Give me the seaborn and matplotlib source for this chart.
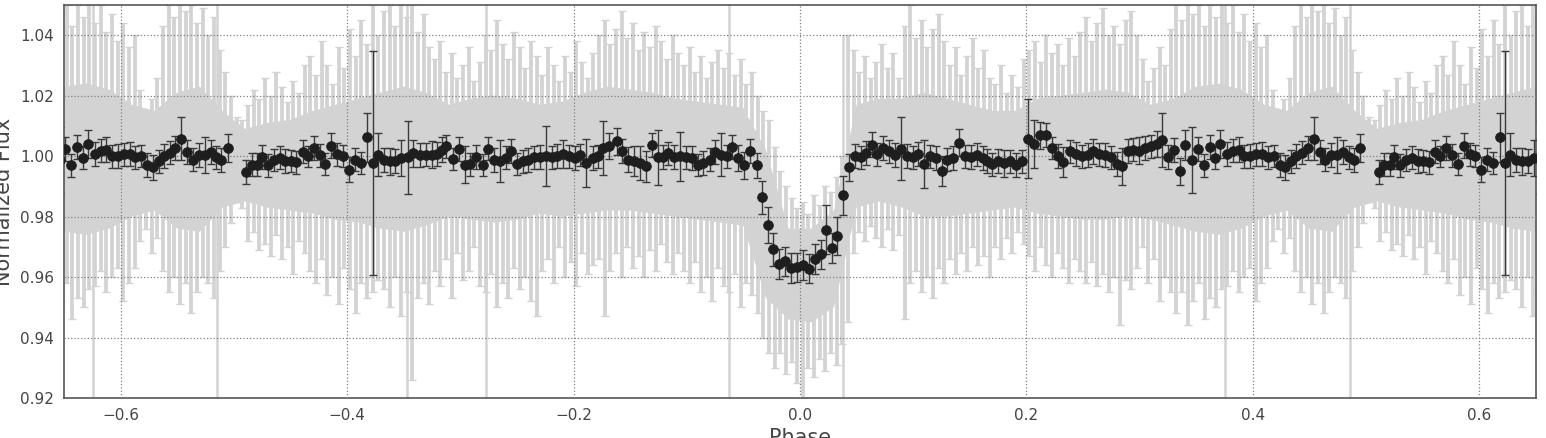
import numpy as np
import pandas as pd
import matplotlib
matplotlib.use("Agg")
import matplotlib.pyplot as plt
import seaborn as sns
from matplotlib.ticker import FuncFormatter

# ---------------- binned (black) light curve, phase in [-0.5, 0.5) ----------------
phase_a = [-0.4889, -0.4840, -0.4792, -0.4751, -0.4698, -0.4645, -0.4595, -0.4545, -0.4498, -0.4447,
           -0.4389, -0.4345, -0.4292, -0.4241, -0.4191, -0.4138, -0.4085, -0.4036, -0.3985, -0.3932,
           -0.3879, -0.3820, -0.3770, -0.3726, -0.3673, -0.3623, -0.3573, -0.3520, -0.3461, -0.3417,
           -0.3358, -0.3299]
flux_a = [0.9948, 0.9972, 0.9972, 0.9997, 0.9970, 0.9988, 0.9994, 0.9983, 0.9983, 0.9980,
          1.0014, 0.9999, 1.0027, 1.0003, 0.9975, 1.0035, 1.0007, 1.0000, 0.9955, 0.9988,
          0.9977, 1.0062, 0.9977, 1.0005, 0.9988, 0.9983, 0.9985, 0.9994, 0.9996, 1.0010,
          1.0005, 1.0005]
err_a = [0.0040, 0.0038, 0.0038, 0.0040, 0.0038, 0.0036, 0.0038, 0.0040, 0.0036, 0.0038,
         0.0038, 0.0036, 0.0040, 0.0038, 0.0036, 0.0040, 0.0038, 0.0036, 0.0042, 0.0038,
         0.0036, 0.0082, 0.0370, 0.0070, 0.0040, 0.0045, 0.0040, 0.0060, 0.0120, 0.0045,
         0.0040, 0.0038]

phase_b = [-0.3254, -0.3210, -0.3166, -0.3122, -0.3064, -0.3010, -0.2960, -0.2910, -0.2857, -0.2804,
           -0.2754, -0.2704, -0.2651, -0.2598, -0.2548, -0.2498, -0.2450, -0.2401, -0.2353, -0.2297,
           -0.2244, -0.2194, -0.2145, -0.2092, -0.2039, -0.1985, -0.1941, -0.1888, -0.1832, -0.1782,
           -0.1738, -0.1685]
flux_b = [1.0005, 1.0007, 1.0022, 1.0033, 0.9990, 1.0024, 0.9972, 0.9974, 0.9996, 0.9972,
          1.0024, 0.9988, 0.9983, 0.9994, 1.0018, 0.9975, 0.9983, 0.9988, 0.9996, 0.9997,
          1.0000, 0.9996, 1.0000, 1.0007, 1.0000, 0.9994, 1.0003, 0.9978, 0.9994, 1.0000,
          1.0027, 1.0033]
err_b = [0.0045, 0.0040, 0.0042, 0.0038, 0.0036, 0.0040, 0.0060, 0.0038, 0.0040, 0.0036,
         0.0038, 0.0040, 0.0070, 0.0038, 0.0040, 0.0036, 0.0038, 0.0040, 0.0038, 0.0040,
         0.0100, 0.0038, 0.0040, 0.0045, 0.0038, 0.0040, 0.0036, 0.0080, 0.0040, 0.0038,
         0.0090, 0.0042]

phase_c = [-0.1620, -0.1570, -0.1517, -0.1464, -0.1414, -0.1363, -0.1310, -0.1257, -0.1208, -0.1164,
           -0.1111, -0.1060, -0.1010, -0.0957, -0.0899, -0.0854, -0.0795, -0.0751, -0.0698, -0.0648,
           -0.0598, -0.0545, -0.0492, -0.0442, -0.0383, -0.0338, -0.0285, -0.0236, -0.0186, -0.0133,
           -0.0082, -0.0029]
flux_c = [1.0049, 1.0018, 0.9988, 0.9983, 0.9977, 0.9966, 1.0038, 0.9996, 0.9996, 1.0010,
          0.9996, 0.9999, 0.9996, 0.9994, 0.9972, 0.9977, 0.9988, 1.0014, 1.0005, 1.0000,
          1.0029, 0.9994, 0.9970, 1.0016, 0.9970, 0.9864, 0.9772, 0.9692, 0.9644, 0.9653,
          0.9629, 0.9633]
err_c = [0.0045, 0.0040, 0.0042, 0.0050, 0.0055, 0.0050, 0.0040, 0.0090, 0.0040, 0.0038,
         0.0040, 0.0080, 0.0038, 0.0040, 0.0036, 0.0040, 0.0038, 0.0040, 0.0070, 0.0038,
         0.0040, 0.0042, 0.0045, 0.0040, 0.0042, 0.0055, 0.0060, 0.0055, 0.0050, 0.0048,
         0.0050, 0.0048]

phase_d = [0.0029, 0.0082, 0.0133, 0.0183, 0.0230, 0.0280, 0.0330, 0.0383, 0.0436, 0.0486,
           0.0536, 0.0583, 0.0634, 0.0683, 0.0736, 0.0789, 0.0839, 0.0890, 0.0943, 0.0996,
           0.1045, 0.1096, 0.1149, 0.1202, 0.1252, 0.1302, 0.1355, 0.1408, 0.1458, 0.1508,
           0.1561, 0.1614]
flux_d = [0.9641, 0.9628, 0.9661, 0.9676, 0.9757, 0.9696, 0.9735, 0.9871, 0.9963, 1.0000,
          0.9996, 1.0011, 1.0038, 1.0007, 1.0027, 1.0016, 1.0003, 1.0025, 1.0000, 0.9996,
          1.0007, 0.9975, 1.0000, 0.9994, 0.9950, 0.9988, 0.9994, 1.0044, 1.0000, 0.9996,
          1.0005, 0.9994]
err_d = [0.0050, 0.0048, 0.0050, 0.0048, 0.0080, 0.0050, 0.0063, 0.0065, 0.0045, 0.0040,
         0.0038, 0.0040, 0.0042, 0.0038, 0.0040, 0.0038, 0.0040, 0.0105, 0.0040, 0.0038,
         0.0040, 0.0080, 0.0038, 0.0040, 0.0050, 0.0038, 0.0040, 0.0045, 0.0038, 0.0040,
         0.0038, 0.0040]

phase_e = [0.1650, 0.1699, 0.1752, 0.1805, 0.1856, 0.1906, 0.1959, 0.2017, 0.2070, 0.2121,
           0.2171, 0.2224, 0.2277, 0.2327, 0.2386, 0.2436, 0.2489, 0.2542, 0.2592, 0.2642,
           0.2695, 0.2748, 0.2798, 0.2843, 0.2896, 0.2945, 0.2996, 0.3048, 0.3102, 0.3152,
           0.3196, 0.3249]
flux_e = [0.9983, 0.9974, 0.9983, 0.9977, 0.9983, 0.9972, 0.9983, 1.0058, 1.0040, 1.0069,
          1.0071, 1.0027, 1.0000, 0.9981, 1.0016, 1.0007, 1.0000, 1.0005, 1.0016, 1.0007,
          1.0005, 0.9996, 0.9974, 0.9966, 1.0016, 1.0022, 1.0018, 1.0027, 1.0033, 1.0040,
          1.0054, 0.9996]
err_e = [0.0040, 0.0038, 0.0040, 0.0045, 0.0038, 0.0040, 0.0038, 0.0130, 0.0080, 0.0045,
         0.0040, 0.0038, 0.0040, 0.0050, 0.0038, 0.0040, 0.0038, 0.0040, 0.0042, 0.0038,
         0.0040, 0.0038, 0.0040, 0.0060, 0.0040, 0.0038, 0.0045, 0.0040, 0.0038, 0.0042,
         0.0090, 0.0040]

phase_f = [0.3305, 0.3358, 0.3402, 0.3461, 0.3511, 0.3564, 0.3617, 0.3667, 0.3711, 0.3770,
           0.3823, 0.3873, 0.3923, 0.3976, 0.4029, 0.4080, 0.4129, 0.4182, 0.4235, 0.4286,
           0.4336, 0.4383, 0.4433, 0.4483, 0.4536, 0.4589, 0.4639, 0.4689, 0.4742, 0.4795,
           0.4845, 0.4889, 0.4945]
flux_f = [1.0021, 0.9950, 1.0038, 0.9988, 1.0024, 0.9970, 1.0030, 0.9994, 1.0040, 1.0007,
          1.0018, 1.0022, 1.0000, 1.0000, 1.0007, 1.0007, 0.9996, 1.0000, 0.9972, 0.9963,
          0.9983, 1.0000, 1.0011, 1.0027, 1.0058, 1.0014, 0.9988, 1.0005, 1.0003, 1.0014,
          0.9996, 0.9988, 1.0027]
err_f = [0.0040, 0.0045, 0.0050, 0.0110, 0.0040, 0.0038, 0.0040, 0.0038, 0.0045, 0.0040,
         0.0038, 0.0040, 0.0038, 0.0040, 0.0038, 0.0040, 0.0038, 0.0036, 0.0040, 0.0042,
         0.0038, 0.0040, 0.0038, 0.0040, 0.0070, 0.0040, 0.0038, 0.0040, 0.0060, 0.0040,
         0.0038, 0.0040, 0.0045]

# ---------------- unbinned (grey) data: per 0.005-phase bin extent ----------------
gray_hi = [1.013, 1.012,
           1.017, 1.022, 1.019, 1.026, 1.020, 1.028, 1.023, 1.018, 1.025, 1.021, 1.030,
           1.033, 1.027, 1.038, 1.030, 1.024, 1.036, 1.029, 1.042, 1.033, 1.045, 1.037, 1.050, 1.040,
           1.048, 1.050, 1.043, 1.050, 1.046, 1.050, 1.041, 1.047, 1.036,
           1.032, 1.038, 1.028, 1.034, 1.026, 1.030, 1.036, 1.025, 1.031,
           1.040, 1.035, 1.045, 1.037, 1.032, 1.041, 1.036, 1.029, 1.038,
           1.033, 1.027, 1.036, 1.030, 1.025, 1.033, 1.028, 1.038, 1.031, 1.026, 1.034,
           1.040, 1.045, 1.037, 1.042, 1.048, 1.039, 1.044, 1.035, 1.041, 1.036, 1.043, 1.038, 1.032, 1.040, 1.034,
           1.030, 1.036, 1.028, 1.033, 1.026, 1.031, 1.035, 1.029, 1.034, 1.027, 1.032, 1.024, 1.028,
           1.020, 1.015, 1.012, 1.003,
           0.995, 0.990, 0.986, 0.983, 0.985, 0.981, 0.987, 0.984, 0.990, 0.988, 0.993, 1.000,
           1.040, 1.035, 1.028, 1.033, 1.026,
           1.031, 1.037, 1.029, 1.034, 1.026,
           1.043, 1.050, 1.039, 1.045, 1.036, 1.042, 1.047, 1.038,
           1.030, 1.036, 1.027, 1.033, 1.039, 1.029, 1.035, 1.026,
           1.024, 1.030, 1.021, 1.027, 1.023, 1.032,
           1.035, 1.038, 1.031, 1.040, 1.034, 1.037, 1.030, 1.039, 1.033,
           1.041, 1.046, 1.038, 1.044, 1.049, 1.040, 1.043, 1.037, 1.045,
           1.048, 1.040, 1.032, 1.025, 1.029, 1.036, 1.030, 1.042,
           1.050, 1.045, 1.050, 1.047, 1.050, 1.043, 1.050, 1.046, 1.050,
           1.044, 1.050, 1.041, 1.047, 1.038, 1.044, 1.036, 1.040,
           1.022, 1.015, 1.019, 1.026,
           1.043, 1.050, 1.046, 1.050, 1.048, 1.050, 1.044, 1.049,
           1.040, 1.046, 1.035, 1.028, 1.020]
gray_lo = [0.985, 0.983,
           0.972, 0.975, 0.969, 0.971, 0.967, 0.974, 0.966, 0.970, 0.961, 0.972, 0.968,
           0.962, 0.958, 0.966, 0.954, 0.960, 0.951, 0.963, 0.956, 0.948, 0.958, 0.953, 0.955, 0.959,
           0.956, 0.950, 0.960, 0.947, 0.955, 0.926, 0.953, 0.958, 0.951,
           0.962, 0.957, 0.966, 0.953, 0.968, 0.959, 0.962, 0.970, 0.957,
           0.955, 0.961, 0.950, 0.958, 0.953, 0.963, 0.956, 0.960, 0.952,
           0.947, 0.962, 0.966, 0.958, 0.970, 0.960, 0.965, 0.957, 0.968, 0.961, 0.964,
           0.966, 0.947, 0.962, 0.968, 0.960, 0.970, 0.963, 0.967, 0.960, 0.969, 0.962, 0.971, 0.965, 0.961, 0.968,
           0.962, 0.958, 0.965, 0.955, 0.960, 0.952, 0.963, 0.957, 0.955, 0.961, 0.950, 0.958, 0.954,
           0.948, 0.940, 0.935, 0.930,
           0.935, 0.928, 0.932, 0.925, 0.920, 0.930, 0.927, 0.933, 0.929, 0.935, 0.931, 0.938,
           0.945, 0.968, 0.975, 0.972, 0.977,
           0.973, 0.970, 0.976, 0.969, 0.974,
           0.946, 0.958, 0.962, 0.955, 0.960, 0.953, 0.963, 0.958,
           0.966, 0.961, 0.968, 0.962, 0.970, 0.964, 0.967, 0.960,
           0.970, 0.966, 0.973, 0.968, 0.975, 0.971,
           0.967, 0.962, 0.970, 0.964, 0.960, 0.968, 0.963, 0.958, 0.966,
           0.962, 0.958, 0.965, 0.957, 0.961, 0.955, 0.960, 0.944, 0.959,
           0.956, 0.963, 0.970, 0.958, 0.966, 0.952, 0.960, 0.955,
           0.948, 0.955, 0.944, 0.952, 0.958, 0.946, 0.953, 0.950, 0.956,
           0.957, 0.962, 0.955, 0.960, 0.963, 0.952, 0.958, 0.963,
           0.972, 0.976, 0.968, 0.973,
           0.962, 0.955, 0.960, 0.951, 0.958, 0.948, 0.955, 0.960,
           0.958, 0.953, 0.962, 0.970, 0.978]

# dense core of the grey cloud, per 0.02-phase bin
core_hi = [1.009, 1.011, 1.012, 1.015, 1.017, 1.019, 1.021, 1.023, 1.021, 1.017,
           1.019, 1.020, 1.019, 1.017, 1.018, 1.021, 1.023, 1.022, 1.021, 1.019,
           1.018, 1.017, 1.016, 1.002, 0.976, 0.976, 0.982, 1.017, 1.019, 1.019,
           1.021, 1.019, 1.017, 1.015, 1.015, 1.019, 1.020, 1.021, 1.022, 1.021,
           1.017, 1.019, 1.023, 1.024, 1.022, 1.017, 1.015, 1.021, 1.023, 1.015]
core_lo = [0.985, 0.983, 0.982, 0.981, 0.979, 0.978, 0.976, 0.975, 0.977, 0.980,
           0.979, 0.978, 0.979, 0.981, 0.980, 0.981, 0.982, 0.982, 0.981, 0.980,
           0.979, 0.978, 0.977, 0.953, 0.946, 0.945, 0.950, 0.983, 0.985, 0.983,
           0.980, 0.980, 0.981, 0.982, 0.983, 0.981, 0.980, 0.979, 0.979, 0.980,
           0.979, 0.977, 0.975, 0.974, 0.976, 0.980, 0.982, 0.976, 0.975, 0.983]

# single grey points with very large error bars
outlier_phase = [-0.3475, -0.2775, -0.0625, 0.0383, 0.3755, 0.4854]
outlier_lo = [0.915, 0.915, 0.915, 0.918, 0.915, 0.915]
outlier_hi = [1.055, 1.055, 1.055, 1.040, 1.055, 1.055]

xticks = [-0.6, -0.4, -0.2, 0.0, 0.2, 0.4, 0.6]
yticks = [0.92, 0.94, 0.96, 0.98, 1.00, 1.02, 1.04]

# ---------------- assemble, wrapping phase by +-1 to fill [-0.65, 0.65] ----------------
binned = pd.DataFrame({
    "phase": phase_a + phase_b + phase_c + phase_d + phase_e + phase_f,
    "flux": flux_a + flux_b + flux_c + flux_d + flux_e + flux_f,
    "err": err_a + err_b + err_c + err_d + err_e + err_f,
})
gray = pd.DataFrame({"phase": np.round(np.arange(len(gray_hi)) * 0.005 - 0.4975, 4),
                     "hi": gray_hi, "lo": gray_lo})
core = pd.DataFrame({"phase": np.round(np.arange(len(core_hi)) * 0.02 - 0.49, 3),
                     "hi": core_hi, "lo": core_lo})
outl = pd.DataFrame({"phase": outlier_phase, "hi": outlier_hi, "lo": outlier_lo})


def wrap(df):
    parts = []
    for s in (-1, 0, 1):
        d = df.copy()
        d["phase"] = d["phase"] + s
        parts.append(d)
    out = pd.concat(parts).sort_values("phase")
    return out[(out["phase"] > -0.70) & (out["phase"] < 0.70)].reset_index(drop=True)


binned_w = wrap(binned)
gray_w = wrap(gray)
core_w = wrap(core)
outl_w = wrap(outl)

# ---------------- figure ----------------
sns.set_style("white")
plt.rcParams["font.family"] = ["DejaVu Sans"]

fig = plt.figure(figsize=(15.46, 4.38), dpi=100)
ax = fig.add_axes([64 / 1546, 1 - 398 / 438, (1536 - 64) / 1546, (398 - 5) / 438])

GREY = "#d3d3d3"
ax.fill_between(core_w["phase"], core_w["lo"], core_w["hi"], color=GREY, lw=0, zorder=1)
ax.errorbar(gray_w["phase"], gray_w["lo"], yerr=[np.zeros(len(gray_w)), gray_w["hi"] - gray_w["lo"]],
            fmt="none", ecolor=GREY, elinewidth=2.7, capsize=2.8, capthick=1.0, zorder=1)
ax.errorbar(outl_w["phase"], outl_w["lo"], yerr=[np.zeros(len(outl_w)), outl_w["hi"] - outl_w["lo"]],
            fmt="none", ecolor=GREY, elinewidth=1.8, capsize=0, zorder=1)

ax.errorbar(binned_w["phase"], binned_w["flux"], yerr=binned_w["err"], fmt="none",
            ecolor="#3a3a3a", elinewidth=1.0, capsize=3.0, capthick=1.0, zorder=3)
sns.scatterplot(data=binned_w, x="phase", y="flux", ax=ax, s=50, color="#1e1e1e",
                edgecolor="#1e1e1e", linewidth=0.5, zorder=4, legend=False)

ax.set_xlim(-0.65, 0.65)
ax.set_ylim(0.92, 1.05)
ax.set_xticks(xticks)
ax.set_yticks(yticks)
ax.xaxis.set_major_formatter(FuncFormatter(lambda v, p: f"{v:.1f}".replace("-", "\u2212")))
ax.yaxis.set_major_formatter(FuncFormatter(lambda v, p: f"{v:.2f}"))
ax.tick_params(direction="in", length=4, width=0.8, color="#555555", labelcolor="#444444",
               labelsize=11, pad=7)
ax.grid(True, linestyle=":", color="#808080", linewidth=0.9)
ax.set_axisbelow(False)
for sp in ax.spines.values():
    sp.set_color("#555555")
    sp.set_linewidth(1.2)

ax.set_xlabel("Phase", fontsize=15, color="#444444")
ax.set_ylabel("Normalized Flux", fontsize=15, color="#444444")
ax.xaxis.set_label_coords(0.5, -0.076)
ax.xaxis.label.set_va("top")
ax.yaxis.set_label_coords(-0.034, 0.5)

fig.savefig("out.png", dpi=100)
